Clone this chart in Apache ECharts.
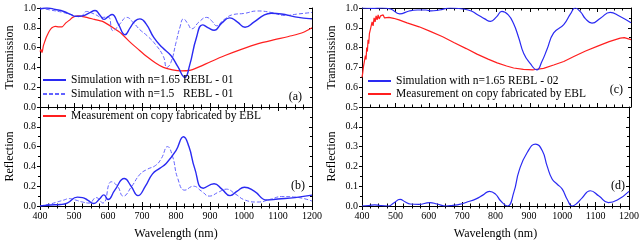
<!DOCTYPE html>
<html><head><meta charset="utf-8">
<script src="https://cdn.jsdelivr.net/npm/echarts@6/dist/echarts.min.js"></script>
<style>html,body{margin:0;padding:0;background:#fff}#c{width:642px;height:241px}</style>
</head><body><div id="c"></div>
<script>
// ---- Data ----
// Panel (a): transmission, REBL-01
const wlA1 = [400,420,445,470,490,505,525,545,562,576,588,600,612,630,650,665,680,694,712,735,760,785,805,826,840,860,878,895,912,935,958,980,1003,1030,1060,1080,1110,1150,1200];
const TA1  = [0.99,1.0,0.985,0.965,0.935,0.915,0.92,0.95,0.975,0.93,0.885,0.91,0.935,0.84,0.73,0.80,0.87,0.89,0.84,0.70,0.60,0.52,0.41,0.30,0.42,0.70,0.83,0.80,0.775,0.85,0.90,0.86,0.805,0.86,0.93,0.947,0.94,0.91,0.89];
const wlA2 = [400,430,468,500,518,537,552,565,582,600,615,635,655,675,694,715,740,763,773,785,800,812,822,835,846,868,890,905,920,940,970,1000,1040,1080,1120,1160,1200];
const TA2  = [1.0,0.98,0.955,0.925,0.91,0.965,0.95,0.93,0.905,0.91,0.77,0.84,0.905,0.85,0.78,0.72,0.63,0.51,0.40,0.45,0.65,0.81,0.89,0.84,0.79,0.86,0.905,0.87,0.82,0.88,0.935,0.945,0.97,0.955,0.925,0.94,0.955];
const wlA3 = [400,403,406,410,414,418,422,428,435,445,455,465,476,486,496,511,530,560,584,615,640,665,690,714,740,763,790,815,840,861,900,944,990,1042,1090,1140,1175,1200];
const TA3  = [0.56,0.58,0.55,0.62,0.66,0.70,0.73,0.77,0.80,0.815,0.81,0.81,0.85,0.875,0.905,0.92,0.91,0.885,0.865,0.80,0.74,0.655,0.58,0.51,0.445,0.40,0.375,0.365,0.37,0.395,0.455,0.52,0.58,0.64,0.68,0.72,0.755,0.80];
// Panel (b): reflection, REBL-01
const wlB1 = [400,430,460,480,510,525,540,558,575,588,600,620,648,668,688,710,731,752,771,800,822,838,855,880,912,935,959,980,1001,1030,1067,1100,1150,1200];
const RB1  = [0,0.01,0.015,0.03,0.09,0.085,0.06,0.025,0.07,0.112,0.065,0.16,0.278,0.2,0.105,0.2,0.325,0.38,0.43,0.56,0.70,0.60,0.38,0.18,0.225,0.17,0.105,0.15,0.19,0.15,0.06,0.07,0.085,0.11];
const wlB2 = [400,430,450,470,486,505,525,545,565,585,610,628,645,670,694,715,740,757,775,790,805,826,851,875,898,925,948,975,1003,1040,1080,1110,1150,1200];
const RB2  = [0,0.02,0.04,0.06,0.075,0.06,0.04,0.03,0.085,0.03,0.245,0.2,0.10,0.2,0.32,0.37,0.41,0.48,0.60,0.50,0.28,0.16,0.20,0.15,0.10,0.14,0.17,0.12,0.06,0.04,0.07,0.095,0.09,0.05];
// Panel (c): transmission, REBL-02
const wlC1 = [400,430,460,485,512,540,565,590,605,630,663,700,725,745,765,782,800,816,835,851,866,881,900,920,935,950,970,1000,1020,1034,1050,1065,1084,1110,1138,1165,1200];
const TC1  = [1.0,0.998,1.0,0.995,0.97,0.985,0.99,0.99,0.985,0.99,1.0,0.995,0.985,0.965,0.945,0.932,0.955,0.983,0.965,0.92,0.85,0.77,0.72,0.688,0.73,0.79,0.874,0.916,0.97,1.0,0.98,0.945,0.924,0.95,0.978,0.96,0.925];
const wlC2 = [400,402,404,406,408,410,412,414,416,418,420,422,424,426,428,430,433,436,439,442,445,448,451,455,459,463,467,472,480,494,510,534,570,603,640,673,710,742,775,802,830,851,880,910,940,970,1000,1030,1065,1099,1135,1168,1180,1200];
const TC2  = [0.65,0.67,0.70,0.69,0.74,0.76,0.74,0.80,0.78,0.84,0.82,0.87,0.86,0.90,0.89,0.93,0.91,0.95,0.93,0.96,0.94,0.965,0.945,0.96,0.95,0.965,0.95,0.96,0.953,0.948,0.94,0.925,0.905,0.882,0.855,0.826,0.795,0.767,0.742,0.723,0.707,0.697,0.69,0.688,0.695,0.712,0.73,0.755,0.783,0.806,0.83,0.848,0.85,0.84];
// Panel (d): reflection, REBL-02
const wlD1 = [400,420,438,455,479,495,514,530,544,570,603,625,652,672,692,715,742,762,782,800,816,836,855,871,895,920,940,955,970,985,1000,1015,1030,1045,1059,1084,1110,1138,1165,1200];
const RD1  = [0,0.002,0.006,0.002,0,0.015,0.033,0.02,0.01,0.008,0.017,0.01,0,0.003,0.008,0.02,0.036,0.055,0.074,0.06,0.025,0,0.07,0.18,0.27,0.313,0.28,0.2,0.135,0.11,0.085,0.033,0,0.015,0.04,0.077,0.05,0.017,0.03,0.074];

const nSim1 = 'Simulation with n=1.65 REBL - 01';
const nSim2 = 'Simulation with n=1.5   REBL - 01';
const nMeas = 'Measurement on copy fabricated by EBL';
const nSim3 = 'Simulation with n=1.65 REBL - 02';
const xTicks = [400,500,600,700,800,900,1000,1100,1200];

// ---- Styling ----
const FONT = "'Liberation Serif', 'DejaVu Serif', 'Times New Roman', serif";
const BLUE = '#2a2af2', BLUE2 = '#6262ff', RED = '#ff1f1f';
const zip = (a, b) => a.map((v, i) => [v, b[i]]);

const grids = [
  {left: 40, top: 8, width: 272, height: 99},
  {left: 40, top: 107, width: 272, height: 100},
  {left: 362, top: 8, width: 269, height: 99},
  {left: 362, top: 107, width: 269, height: 100}
];
const axLine = {lineStyle: {color: '#000', width: 1}};
function xAxes(g, showLabels, withName) {
  const base = {type: 'value', gridIndex: g, min: xTicks[0], max: xTicks[xTicks.length-1], interval: 100,
    axisLine: axLine, splitLine: {show: false},
    axisTick: {inside: true, length: 4, lineStyle: {color: '#000'}},
    minorTick: {show: true, splitNumber: 4, length: 2.5, lineStyle: {color: '#000'}}};
  return [
    Object.assign({}, base, {position: 'bottom',
      axisLabel: {show: showLabels, fontFamily: FONT, fontSize: 10, color: '#000', margin: 5,
        formatter: v => String(v)},
      name: withName ? 'Wavelength (nm)' : '', nameLocation: 'middle', nameGap: 22,
      nameTextStyle: {fontFamily: FONT, fontSize: 12, color: '#000'}}),
    Object.assign({}, base, {position: 'top', axisLabel: {show: false}})
  ];
}
function yAxes(g, min, max, interval, name, hideMax) {
  const base = {type: 'value', gridIndex: g, min: min, max: max, interval: interval,
    axisLine: axLine, splitLine: {show: false},
    minorTick: {show: true, splitNumber: 2, length: 2, lineStyle: {color: '#000'}}};
  return [
    Object.assign({}, base, {position: 'left',
      axisTick: {inside: false, length: 3, lineStyle: {color: '#000'}},
      axisLabel: {fontFamily: FONT, fontSize: 10, color: '#000', margin: 4,
        formatter: v => (hideMax && Math.abs(v - max) < 1e-9) ? '' : v.toFixed(1)},
      name: name, nameLocation: 'middle', nameGap: 24, nameRotate: 90,
      nameTextStyle: {fontFamily: FONT, fontSize: 12, color: '#000'}}),
    Object.assign({}, base, {position: 'right',
      axisTick: {inside: true, length: 3, lineStyle: {color: '#000'}},
      axisLabel: {show: false}})
  ];
}

const lineS = (name, xi, yi, data, color, width, dash, smooth) => ({
  type: 'line', name: name, xAxisIndex: xi, yAxisIndex: yi, data: data,
  symbol: 'none', smooth: smooth, animation: false,
  lineStyle: {color: color, width: width, type: dash || 'solid'},
  itemStyle: {color: color}
});

const legendBase = {orient: 'vertical', itemWidth: 23, itemHeight: 10, itemGap: 2, padding: 0,
  itemStyle: {color: 'rgba(0,0,0,0)', borderWidth: 0, opacity: 0},
  textStyle: {fontFamily: FONT, fontSize: 11.5, color: '#000'}, selectedMode: false};

const option = {
  animation: false,
  grid: grids,
  xAxis: [].concat(xAxes(0, false, false), xAxes(1, true, true), xAxes(2, false, false), xAxes(3, true, true)),
  yAxis: [].concat(yAxes(0, 0, 1, 0.2, 'Transmission', false), yAxes(1, 0, 1, 0.2, 'Reflection', true),
                   yAxes(2, 0.5, 1, 0.1, 'Transmission', false), yAxes(3, 0, 0.5, 0.1, 'Reflection', true)),
  legend: [
    Object.assign({}, legendBase, {left: 42, top: 74, data: [nSim1, nSim2]}),
    Object.assign({}, legendBase, {left: 42, top: 110, data: [nMeas]}),
    Object.assign({}, legendBase, {left: 367, top: 75, itemGap: 1, data: [nSim3, nMeas]})
  ],
  series: [
    lineS(nMeas, 0, 0, zip(wlA3, TA3), RED, 1.2, null, 0.2),
    lineS(nSim2, 0, 0, zip(wlA2, TA2), BLUE2, 1, [4, 2], 0.5),
    lineS(nSim1, 0, 0, zip(wlA1, TA1), BLUE, 1.4, null, 0.5),
    lineS('R n=1.5', 2, 2, zip(wlB2, RB2), BLUE2, 1, [4, 2], 0.5),
    lineS('R n=1.65', 2, 2, zip(wlB1, RB1), BLUE, 1.4, null, 0.5),
    lineS(nMeas, 4, 4, zip(wlC2, TC2), RED, 1.2, null, false),
    lineS(nSim3, 4, 4, zip(wlC1, TC1), BLUE, 1.2, null, 0.5),
    lineS('R REBL-02', 6, 6, zip(wlD1, RD1), BLUE, 1.2, null, 0.5)
  ],
  graphic: [
    {type: 'text', right: 642 - 302, top: 91, style: {text: '(a)', font: '12px ' + FONT, fill: '#000'}},
    {type: 'text', right: 642 - 305, top: 180, style: {text: '(b)', font: '12px ' + FONT, fill: '#000'}},
    {type: 'text', right: 642 - 623, top: 84, style: {text: '(c)', font: '12px ' + FONT, fill: '#000'}},
    {type: 'text', right: 642 - 625, top: 180, style: {text: '(d)', font: '12px ' + FONT, fill: '#000'}}
  ]
};
const chart = echarts.init(document.getElementById('c'), null, {renderer: 'canvas'});
chart.setOption(option);
</script></body></html>
